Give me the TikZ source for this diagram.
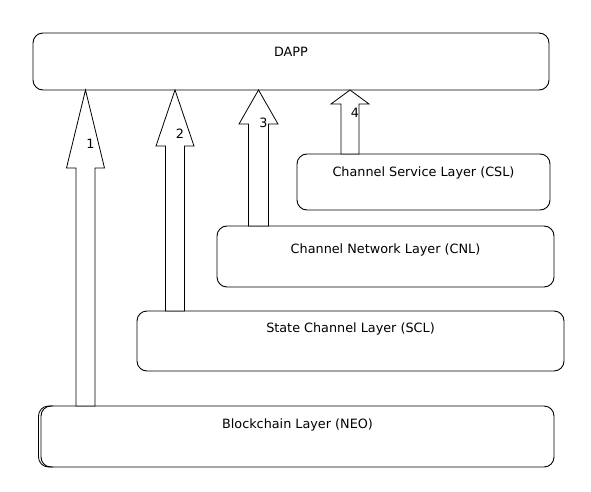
\documentclass[tikz,border=0pt]{standalone}
\usepackage{fontspec}
\setmainfont{DejaVu Sans}
\usetikzlibrary{calc}
\tikzset{
  layer/.style={draw, line width=0.9pt, rounded corners=10pt, inner xsep=0pt, inner ysep=0pt, outer sep=0pt, anchor=base, align=center},
  barrow/.style={draw, line width=0.8pt, line join=miter, fill=white},
  lbl/.style={inner sep=0pt, anchor=center}
}
% #1 source node, #2 target node, #3 centre x, #4 shaft half width, #5 head half width, #6 head length, #7 label, #8 label distance below tip
\newcommand\blockarr[8]{%
  \draw[barrow] let \p1=(#1.north), \p2=(#2.south) in
    (#3pt-#4pt,\y1) -- (#3pt-#4pt,\y2-#6pt) -- (#3pt-#5pt,\y2-#6pt) -- (#3pt,\y2)
    -- (#3pt+#5pt,\y2-#6pt) -- (#3pt+#4pt,\y2-#6pt) -- (#3pt+#4pt,\y1) -- cycle
    (#3pt+5pt,\y2-#8pt) node[lbl] {#7};
}
\begin{document}
\begin{tikzpicture}[x=1pt, y=-1pt, font=\fontsize{12.8}{15}\selectfont]
\useasboundingbox[fill=white] (0,0) rectangle (591,492);
\node[layer, minimum width=516pt, text height=23.7pt, text depth=33.3pt] (dapp) at (291,56.7) {DAPP};
\node[layer, minimum width=253pt, text height=22.7pt, text depth=33.3pt] (csl) at (423.5,176.7) {Channel Service Layer (CSL)};
\node[layer, minimum width=337pt, text height=27.7pt, text depth=33.3pt] (cnl) at (385.5,253.7) {Channel Network Layer (CNL)};
\node[layer, minimum width=427pt, text height=21.7pt, text depth=38.3pt] (scl) at (350.5,332.7) {State Channel Layer (SCL)};
\node[layer, minimum width=513pt, text height=22.7pt, text depth=38.3pt] (neo) at (297.5,428.7) {Blockchain Layer (NEO)};
\draw[line width=0.8pt, rounded corners=10pt] ([xshift=12pt]neo.north west) -- ([xshift=-2.5pt]neo.north west) -- ([xshift=-2.5pt]neo.south west) -- ([xshift=12pt]neo.south west);
\blockarr{neo}{dapp}{85.5}{9.5}{19}{78}{1}{54}
\blockarr{scl}{dapp}{175}{9.5}{19}{56}{2}{44}
\blockarr{cnl}{dapp}{258.5}{10}{19.5}{34}{3}{33}
\blockarr{csl}{dapp}{350}{9}{19}{14}{4}{23}
\end{tikzpicture}
\end{document}
